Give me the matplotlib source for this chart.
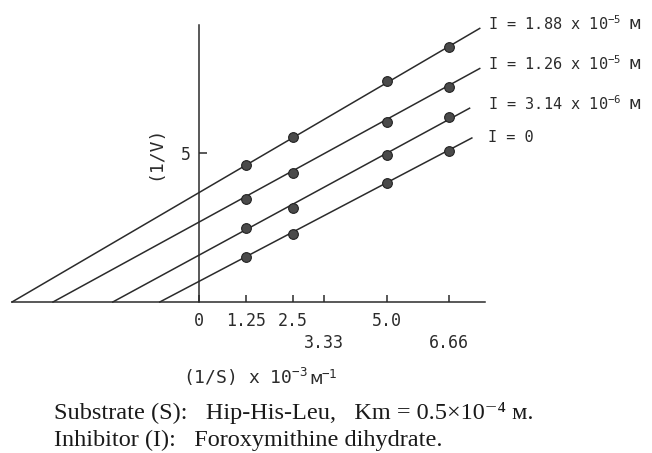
import matplotlib
matplotlib.use('Agg')
import matplotlib.pyplot as plt
import numpy as np

plt.rcParams['mathtext.fontset'] = 'custom'
plt.rcParams['mathtext.rm'] = 'DejaVu Sans Mono'
plt.rcParams['mathtext.it'] = 'DejaVu Sans Mono'
plt.rcParams['mathtext.bf'] = 'DejaVu Sans Mono'

# %% data
inv_s = [1.25, 2.5, 5.0, 6.66]
labels = ['I = 0',
          'I = 3.14 x 10$^{-6}$',
          'I = 1.26 x 10$^{-5}$',
          'I = 1.88 x 10$^{-5}$']
unit_after = [False, True, True, True]
inv_v_0 = [1.51, 2.28, 4.00, 5.07]
inv_v_314e6 = [2.48, 3.15, 4.93, 6.20]
inv_v_126e5 = [3.46, 4.33, 6.04, 7.21]
inv_v_188e5 = [4.60, 5.54, 7.42, 8.56]
series = [inv_v_0, inv_v_314e6, inv_v_126e5, inv_v_188e5]

# fitted lines: x-intercept, y-intercept, end of drawn line
x_int = [-1.04, -2.29, -3.88, -4.97]
y_int = [0.69, 1.57, 2.68, 3.67]
x_end = [7.26, 7.20, 7.47, 7.47]
label_y = [5.54, 6.61, 7.95, 9.30]

xticks_row1 = [0, 1.25, 2.5, 5.0]
xlabels_row1 = ['0', '1.25', '2.5', '5.0']
xticks_row2 = [3.33, 6.66]
xlabels_row2 = ['3.33', '6.66']

mono = ['DejaVu Sans Mono', 'DejaVu Sans']
serif = ['Liberation Serif', 'DejaVu Serif']

# %%
fig = plt.figure(figsize=(6.52, 4.53), dpi=100)
ax = fig.add_axes([12/652, 151/453, 473/652, 277/453])
ax.set_xlim(-4.97, 7.61)
ax.set_ylim(0, 9.3)

ink = '#2b2b2b'
for xi, yi, xe, ys in zip(x_int, y_int, x_end, series):
    xs = np.array([xi, xe])
    ax.plot(xs, yi * (1 - xs / xi), color=ink, lw=1.1, clip_on=False)
    ax.plot(inv_s, ys, 'o', ms=7, mfc='#4a4a4a', mec='#222222', mew=0.8,
            clip_on=False, zorder=3)

for lab, ly, unit in zip(labels, label_y, unit_after):
    t = ax.text(7.69, ly - 0.17, lab, fontsize=11, family=mono,
                ha='left', va='baseline', color=ink)
    if unit:
        ax.annotate('\u1d0d', xy=(1, 0), xycoords=t, xytext=(5, 0),
                    textcoords='offset points', fontsize=12, family=mono,
                    ha='left', va='bottom', color=ink)

for s in ['top', 'right']:
    ax.spines[s].set_visible(False)
ax.spines['left'].set_position(('data', 0))
ax.spines['bottom'].set_position(('data', 0))
for s in ['left', 'bottom']:
    ax.spines[s].set_color(ink)
    ax.spines[s].set_linewidth(1.1)

ax.set_xticks(xticks_row1)
ax.set_xticklabels(xlabels_row1, family=mono, fontsize=12, color=ink)
ax.set_xticks(xticks_row2, minor=True)
ax.set_xticklabels(xlabels_row2, minor=True, family=mono, fontsize=12,
                   color=ink)
ax.set_yticks([5])
ax.set_yticklabels(['5'], family=mono, fontsize=12, color=ink)
ax.tick_params(axis='x', which='major', direction='in', length=5, width=1.1,
               pad=7, color=ink)
ax.tick_params(axis='x', which='minor', direction='in', length=5, width=1.1,
               pad=23, color=ink)
ax.tick_params(axis='y', direction='in', length=6, width=1.1, pad=6,
               color=ink)

ax.text(-1.17, 5.0, '(1/V)', rotation=90, fontsize=13,
        family=mono, ha='center', va='center', color=ink)

# x label: "(1/S) x 10^-3 M^-1", small-cap M kept outside mathtext
xl = fig.text(183/652, 1 - 384/453, '(1/S) x 10$^{-3}$',
              fontsize=13, family=mono, ha='left', va='baseline', color=ink)
xm = ax.annotate('\u1d0d', xy=(1, 0), xycoords=xl, xytext=(1, 0),
                 textcoords='offset points', fontsize=13, family=mono,
                 ha='left', va='bottom', color=ink, annotation_clip=False)
ax.annotate('$^{-1}$', xy=(1, 0), xycoords=xm, xytext=(-1, 0),
            textcoords='offset points', fontsize=13, family=mono,
            ha='left', va='bottom', color=ink, annotation_clip=False)

fig.text(54/652, 1 - 413/453,
         'Substrate (S):   Hip-His-Leu,   Km = 0.5\u00d710\u207b\u2074 \u1d0d.',
         fontsize=17.5, family=serif, ha='left', va='center', color='#1a1a1a')
fig.text(54/652, 1 - 440/453,
         'Inhibitor (I):   Foroxymithine dihydrate.',
         fontsize=17.5, family=serif, ha='left', va='center', color='#1a1a1a')

fig.savefig('out.png', dpi=100)
